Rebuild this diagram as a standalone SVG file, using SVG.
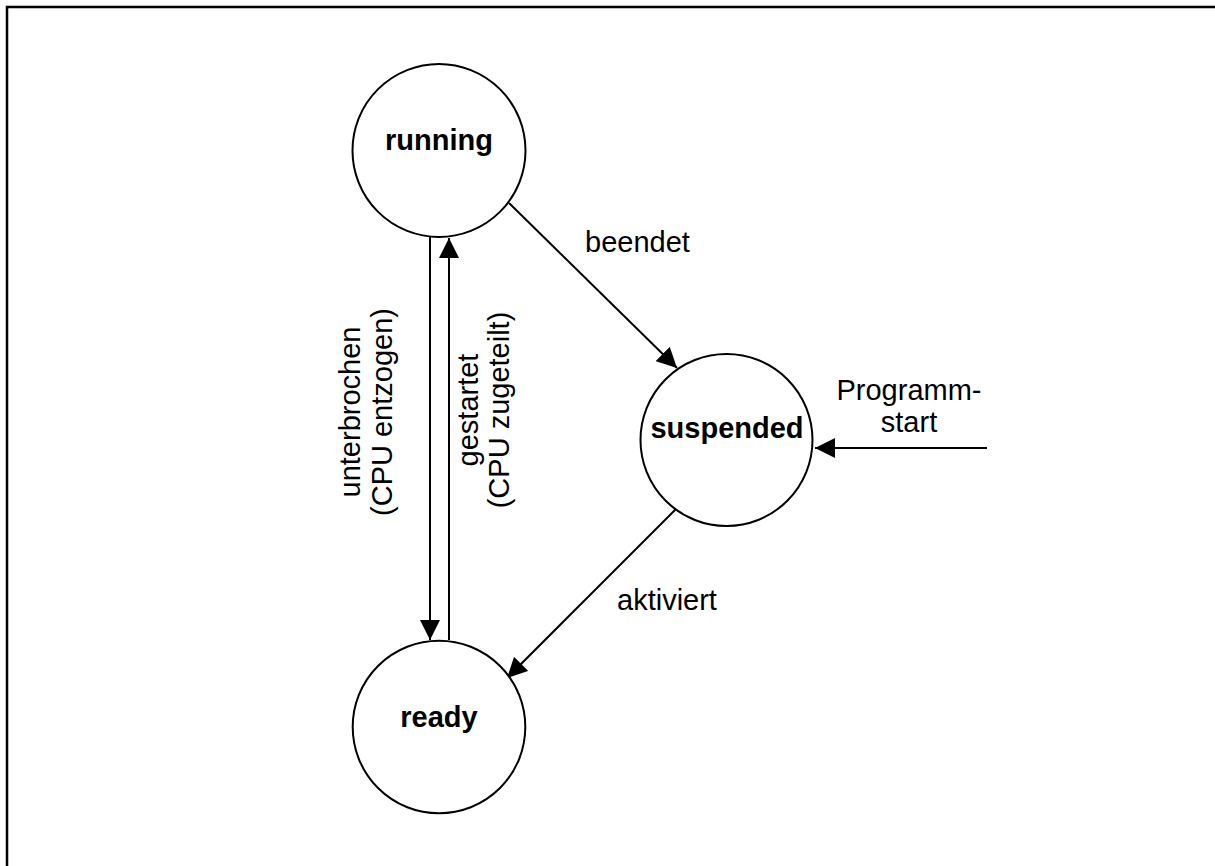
<svg xmlns="http://www.w3.org/2000/svg" width="1215" height="866" viewBox="0 0 1215 866">
<style>
.node{fill:#fff;stroke:#000;stroke-width:2}
.lbl{font-family:"Liberation Sans",Arial,sans-serif;font-size:29px;fill:#000}
.bold{font-weight:bold;text-anchor:middle}
.edge{stroke:#000;stroke-width:2;fill:none;marker-end:url(#ah)}
</style>
<defs>
<marker id="ah" viewBox="0 0 20 20" refX="20" refY="10" markerWidth="20" markerHeight="20" markerUnits="userSpaceOnUse" orient="auto">
<path d="M0,0 L20,10 L0,20 z" fill="#000"/>
</marker>
</defs>
<rect width="1215" height="866" fill="#fff"/>
<path d="M7,866 V7 H1215" fill="none" stroke="#000" stroke-width="2.5"/>
<g id="connectors">
<line class="edge" x1="430" y1="237" x2="430" y2="640"/>
<line class="edge" x1="449" y1="640" x2="449" y2="238"/>
<line class="edge" x1="509" y1="203" x2="677" y2="368"/>
<line class="edge" x1="679" y1="506" x2="507" y2="678"/>
<line class="edge" x1="987" y1="448" x2="815" y2="448"/>
<text class="lbl" x="585" y="252">beendet</text>
<text class="lbl" x="617" y="610">aktiviert</text>
<text class="lbl" text-anchor="middle"><tspan x="909" y="400">Programm-</tspan><tspan x="909" y="432">start</tspan></text>
<text class="lbl" text-anchor="middle" transform="translate(360,412) rotate(-90)"><tspan x="0" y="0">unterbrochen</tspan><tspan x="0" y="32">(CPU entzogen)</tspan></text>
<text class="lbl" text-anchor="middle" transform="translate(478,410) rotate(-90)"><tspan x="0" y="0">gestartet</tspan><tspan x="0" y="31">(CPU zugeteilt)</tspan></text>
</g>
<g id="running">
<circle class="node" cx="439" cy="150.5" r="86.5"/>
<text class="lbl bold" x="439" y="150">running</text>
</g>
<g id="suspended">
<circle class="node" cx="726.5" cy="440" r="86"/>
<text class="lbl bold" x="727" y="438">suspended</text>
</g>
<g id="ready">
<circle class="node" cx="439" cy="727" r="86.3"/>
<text class="lbl bold" x="439" y="727">ready</text>
</g>
</svg>
